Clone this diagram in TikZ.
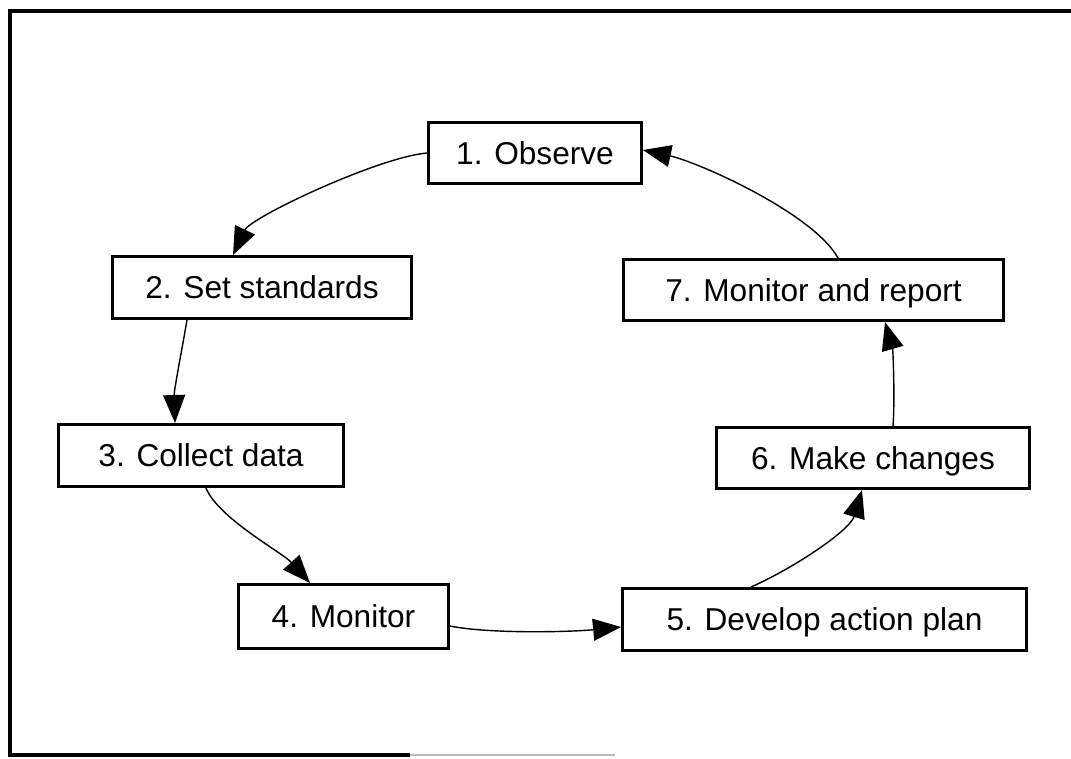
\documentclass[tikz,border=0pt]{standalone}
\usepackage{fontspec}
\setmainfont{Liberation Sans}
\usetikzlibrary{arrows.meta,calc}
\begin{document}
\begin{tikzpicture}[x=0.02cm,y=-0.02cm,
  stage/.style={draw,line width=1.7pt,fill=white,inner sep=0pt,
    font=\fontsize{18}{21}\selectfont,text height=13pt,text depth=0pt},
  conn/.style={line width=0.8pt,-{Triangle[length=0.56cm,width=0.44cm]}},
  frameline/.style={line width=2.5pt}]
\useasboundingbox (0,0) rectangle (1071,758);
% outer frame
\draw[frameline] (1080,11) -- (10,11) -- (10,755) -- (410,755);
\draw[gray!55,line width=1.2pt] (410,755) -- (615,755);
% stages
\node[stage,minimum width=4.26cm,minimum height=1.22cm] (b1) at (535,153) {1. Observe};
\node[stage,minimum width=5.98cm,minimum height=1.24cm] (b2) at (262,287.5) {2. Set standards};
\node[stage,minimum width=5.70cm,minimum height=1.24cm] (b3) at (201,455.5) {3. Collect data};
\node[stage,minimum width=4.20cm,minimum height=1.28cm] (b4) at (343.5,616.5) {4. Monitor};
\node[stage,minimum width=8.08cm,minimum height=1.24cm] (b5) at (824.5,619.5) {5. Develop action plan};
\node[stage,minimum width=6.28cm,minimum height=1.22cm] (b6) at (873,458) {6. Make changes};
\node[stage,minimum width=7.60cm,minimum height=1.22cm] (b7) at (813.5,290) {7. Monitor and report};
% connectors
\draw[conn] ($(b1.west)+(0,0)$) .. controls +(-48,4) and +(18,-38) .. ($(b2.north)+(-29,0)$);
\draw[conn] ($(b2.south)+(-75,0)$) .. controls +(-6,35) and +(-1,-33) .. ($(b3.north)+(-26,0)$);
\draw[conn] ($(b3.south)+(5,0)$) .. controls +(12,30) and +(-27,-30) .. ($(b4.north)+(-33.5,0)$);
\draw[conn] ($(b4.east)+(0,9.5)$) .. controls +(40,8) and +(-51,5) .. ($(b5.west)+(0,7.5)$);
\draw[conn] ($(b5.north)+(-73.5,0)$) .. controls +(45,-20) and +(-12,40) .. ($(b6.south)+(-11,0)$);
\draw[conn] ($(b6.north)+(20,0)$) .. controls +(2,-26) and +(8,28) .. ($(b7.south)+(71.5,0)$);
\draw[conn] ($(b7.north)+(24.5,0)$) .. controls +(-25,-45) and +(55,12) .. ($(b1.east)+(0,-3)$);
\end{tikzpicture}
\end{document}
